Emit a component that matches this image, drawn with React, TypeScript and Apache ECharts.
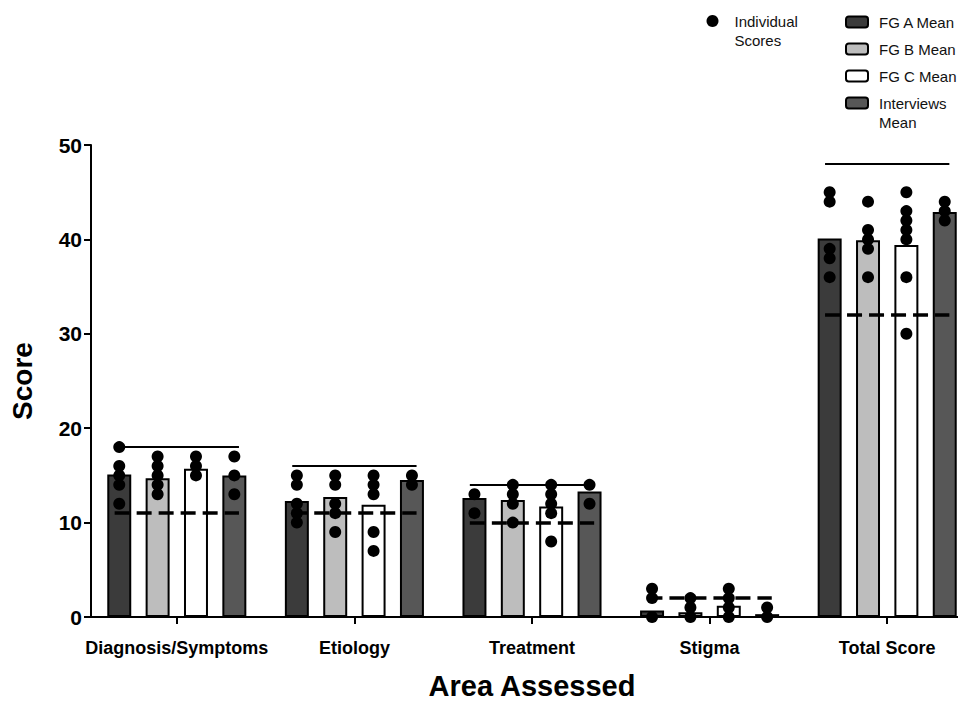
import React, { useEffect, useRef } from "react";
import * as echarts from "echarts";

const categories = ["Diagnosis/Symptoms", "Etiology", "Treatment", "Stigma", "Total Score"];
const seriesNames = ["FG A Mean", "FG B Mean", "FG C Mean", "Interviews Mean"];
const barColors = ["#3b3b3b", "#bdbdbd", "#ffffff", "#575757"];

const fgAMean = [15.1, 12.3, 12.6, 0.7, 40.1];
const fgBMean = [14.7, 12.7, 12.4, 0.5, 39.9];
const fgCMean = [15.7, 11.9, 11.7, 1.2, 39.4];
const interviewsMean = [15.0, 14.5, 13.3, 0.3, 42.9];

const fgAScores = [[18, 16, 15, 14, 12], [15, 14, 12, 11, 10], [13, 11], [3, 2, 0], [45, 44, 39, 38, 36]];
const fgBScores = [[17, 16, 15, 14, 13], [15, 14, 12, 11, 9], [14, 13, 12, 10], [2, 1, 0], [44, 41, 40, 39, 36]];
const fgCScores = [[17, 16, 15], [15, 14, 13, 9, 7], [14, 13, 12, 11, 8], [3, 2, 1, 0], [45, 43, 42, 41, 40, 36, 30]];
const interviewsScores = [[17, 15, 13], [15, 14], [14, 12], [1, 0], [44, 43, 42]];

const maxScore = [18, 16, 14, 0, 48];
const threshold = [11, 11, 10, 2, 32];

const yTicks = [0, 10, 20, 30, 40, 50];

// bar offsets within a category (in category units), from barWidth 13.5% and barGap 60%
const offsets = [-0.324, -0.108, 0.108, 0.324];
const lineHalf = 0.35;

export default function App() {
  const ref = useRef<HTMLDivElement>(null);
  useEffect(() => {
    if (!ref.current) return;
    const chart = echarts.init(ref.current, null, { renderer: "svg" });
    const means = [fgAMean, fgBMean, fgCMean, interviewsMean];
    const scores = [fgAScores, fgBScores, fgCScores, interviewsScores];

    const scatterData: number[][] = [];
    scores.forEach((grp, g) => {
      grp.forEach((vals, i) => {
        vals.forEach((v) => scatterData.push([i + offsets[g], v]));
      });
    });

    const markLines: any[] = [];
    categories.forEach((_, i) => {
      const solid = { type: "solid", width: 2, color: "#000" };
      const dashed = { type: [15, 7], width: 3.5, color: "#000" };
      markLines.push([
        { coord: [i - lineHalf, maxScore[i]], lineStyle: solid },
        { coord: [i + lineHalf, maxScore[i]], lineStyle: solid },
      ]);
      markLines.push([
        { coord: [i - lineHalf, threshold[i]], lineStyle: dashed },
        { coord: [i + lineHalf, threshold[i]], lineStyle: dashed },
      ]);
    });

    const font = "'Liberation Sans', Arial, Helvetica, sans-serif";

    const barSeries = seriesNames.map((name, g) => ({
      name,
      type: "bar",
      xAxisIndex: 0,
      yAxisIndex: 0,
      data: means[g],
      barWidth: "13.5%",
      barGap: "60%",
      itemStyle: { color: barColors[g], borderColor: "#000", borderWidth: 2 },
    }));

    const legendText = { fontFamily: font, fontSize: 15, color: "#111", lineHeight: 19 };

    chart.setOption({
      animation: false,
      backgroundColor: "#fff",
      textStyle: { fontFamily: font },
      grid: { left: 88, top: 145, right: 0, height: 472, containLabel: false, outerBoundsMode: "none" },
      legend: [
        {
          data: ["Individual Scores"],
          left: 706.5,
          top: -7.5,
          padding: 0,
          itemWidth: 12,
          itemHeight: 12,
          icon: "circle",
          selectedMode: false,
          formatter: () => " \nIndividual\nScores",
          textStyle: { ...legendText, padding: [0, 0, 0, 11] },
        },
        {
          data: ["FG A Mean", "FG B Mean", "FG C Mean"],
          orient: "vertical",
          left: 845,
          top: 12.5,
          padding: 0,
          itemGap: 8,
          itemWidth: 22,
          itemHeight: 11,
          selectedMode: false,
          itemStyle: { borderColor: "#000", borderWidth: 2 },
          textStyle: { ...legendText, padding: [0, 0, 0, 6] },
        },
        {
          data: ["Interviews Mean"],
          orient: "vertical",
          left: 845,
          top: 74.5,
          padding: 0,
          itemWidth: 22,
          itemHeight: 11,
          selectedMode: false,
          formatter: () => " \nInterviews\nMean",
          itemStyle: { borderColor: "#000", borderWidth: 2 },
          textStyle: { ...legendText, padding: [0, 0, 0, 6] },
        },
      ],
      xAxis: [
        {
          type: "category",
          data: categories,
          offset: 7,
          axisLine: { show: true, lineStyle: { color: "#000", width: 2 } },
          axisTick: { show: true, alignWithLabel: true, length: 7, lineStyle: { color: "#000", width: 2 } },
          axisLabel: {
            color: "#000",
            fontWeight: "bold",
            fontSize: 18,
            margin: 15,
            fontFamily: font,
            interval: 0,
            hideOverlap: false,
          },
          name: "Area Assessed",
          nameLocation: "middle",
          nameGap: 47,
          nameTextStyle: { color: "#000", fontWeight: "bold", fontSize: 29, fontFamily: font },
          splitLine: { show: false },
        },
        {
          type: "value",
          min: -0.5,
          max: 4.5,
          show: false,
          splitLine: { show: false },
        },
      ],
      yAxis: {
        type: "value",
        min: 0,
        max: 50,
        interval: 10,
        offset: -3,
        axisLine: { show: true, onZero: false, lineStyle: { color: "#000", width: 2 } },
        axisTick: { show: true, length: 7, lineStyle: { color: "#000", width: 2 } },
        axisLabel: {
          color: "#000",
          fontWeight: "bold",
          fontSize: 21,
          margin: 9,
          fontFamily: font,
          formatter: (v: number) => (yTicks.includes(v) ? String(v) : ""),
        },
        splitLine: { show: false },
        name: "Score",
        nameLocation: "middle",
        nameGap: 55,
        nameTextStyle: { color: "#000", fontWeight: "bold", fontSize: 28, fontFamily: font },
      },
      series: [
        ...barSeries,
        {
          name: "Individual Scores",
          type: "scatter",
          xAxisIndex: 1,
          yAxisIndex: 0,
          symbol: "circle",
          symbolSize: 12,
          itemStyle: { color: "#000", opacity: 1 },
          data: scatterData,
          z: 4,
          markLine: {
            silent: true,
            symbol: ["none", "none"],
            label: { show: false },
            animation: false,
            data: markLines,
          },
        },
      ],
    });
    return () => chart.dispose();
  }, []);
  return (
    <div
      ref={ref}
      style={{ position: "fixed", left: 0, top: 0, width: 976, height: 705, background: "#fff" }}
    />
  );
}
